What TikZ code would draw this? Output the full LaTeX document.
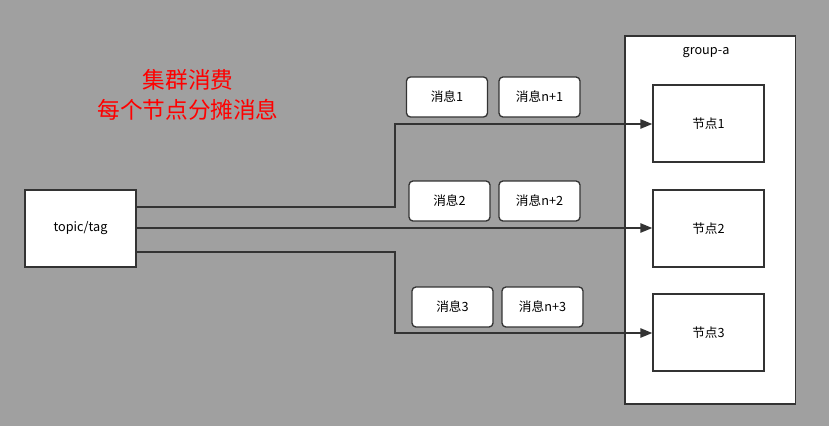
\documentclass[tikz,border=0pt]{standalone}
\usepackage{fontspec}
\setmainfont{Noto Sans CJK SC}
\usetikzlibrary{arrows.meta}
\definecolor{bg}{HTML}{A0A0A0}
\definecolor{ln}{HTML}{333333}
\tikzset{
 box/.style={draw=ln,line width=1.3pt,fill=white,inner sep=0pt,font=\fontsize{9.5}{11}\selectfont},
 msg/.style={draw=ln,line width=1pt,fill=white,rounded corners=3pt,inner sep=0pt,minimum width=60.75pt,minimum height=30pt,font=\fontsize{9.5}{11}\selectfont},
 conn/.style={draw=ln,line width=1.3pt,-{Triangle[length=9pt,width=7pt]}}
}
\begin{document}
\begin{tikzpicture}[x=0.75pt,y=-0.75pt]
\fill[bg] (0,0) rectangle (829,426);
\useasboundingbox (0,0) rectangle (829,426);
\node[box,minimum width=128pt,minimum height=276pt,anchor=north west] (grp) at (624,35) {};
\node[font=\fontsize{9.5}{11}\selectfont] (gl) at (706,53) {group-a};
\node[box,minimum width=83pt,minimum height=57.75pt] (topic) at (80.5,228.5) {topic/tag};
\node[box,minimum width=83pt,minimum height=57.75pt] (n1) at (708.5,123.5) {节点1};
\node[box,minimum width=83pt,minimum height=57.75pt] (n2) at (708.5,228.5) {节点2};
\node[box,minimum width=83pt,minimum height=57.75pt] (n3) at (708.5,332.5) {节点3};
\node[msg] (m1) at (447,97) {消息1};
\node[msg] (m1b) at (539.5,97) {消息n+1};
\node[msg] (m2) at (449.5,201) {消息2};
\node[msg] (m2b) at (539.5,201) {消息n+2};
\node[msg] (m3) at (452.5,307) {消息3};
\node[msg] (m3b) at (542.5,307) {消息n+3};
\node[text=red,font=\fontsize{17}{22}\selectfont,align=center] (title) at (188,95) {集群消费\\每个节点分摊消息};
\draw[conn] (topic.east|-0,207) -- (395,207) -- (395,124) -- (n1.west|-0,124);
\draw[conn] (topic.east|-0,228) -- (n2.west|-0,228);
\draw[conn] (topic.east|-0,252) -- (395,252) -- (395,333) -- (n3.west|-0,333);
\end{tikzpicture}
\end{document}
